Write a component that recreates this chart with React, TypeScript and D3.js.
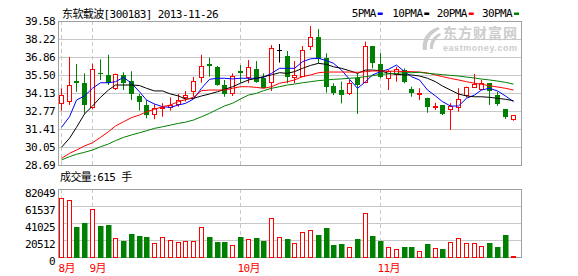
import React from 'react';
import * as d3 from 'd3';

const W = 578;
const H = 276;

const stockTitle = '东软载波[300183] 2013-11-26';
const volumeTitle = '成交量:615 手';
const legendNames = ['5PMA', '10PMA', '20PMA', '30PMA'];
const legendColors = ['#0000ff', '#000000', '#ff0000', '#008000'];
const priceTicks = [39.58, 38.22, 36.86, 35.5, 34.13, 32.77, 31.41, 30.05, 28.69];
const volumeTicks = [82049, 61537, 41025, 20512, 0];
const monthIndex = [0, 4, 23, 41];
const monthLabels = ['8月', '9月', '10月', '11月'];

const opens = [33.35, 33.51, 35.04, 34.89, 33.05, 35.65, 35.47, 34.49, 35.47, 35.02, 33.88, 33.2, 32.52, 33.0, 33.05, 33.3, 33.81, 34.26, 35.32, 36.33, 36.1, 34.74, 34.11, 35.8, 35.32, 35.93, 35.29, 34.94, 37.39, 36.93, 35.37, 35.42, 37.69, 38.39, 36.78, 34.66, 34.36, 34.11, 35.25, 34.94, 37.69, 36.33, 35.25, 35.57, 35.87, 34.46, 34.11, 33.78, 33.12, 33.23, 32.9, 33.05, 33.96, 34.61, 34.41, 34.87, 33.98, 32.9, 32.17];
const highs = [34.49, 36.86, 36.33, 35.62, 36.35, 36.68, 37.03, 35.6, 35.7, 35.78, 34.06, 33.6, 33.28, 33.36, 33.8, 34.06, 34.29, 35.34, 37.03, 36.8, 36.18, 35.12, 35.62, 36.25, 36.63, 36.55, 35.62, 37.76, 37.84, 37.31, 36.55, 37.69, 39.2, 38.97, 37.14, 34.87, 34.99, 35.12, 35.62, 38.02, 37.69, 37.14, 35.87, 36.12, 36.0, 34.61, 34.49, 33.78, 33.4, 33.23, 33.36, 34.49, 34.61, 35.57, 35.12, 34.87, 34.23, 32.9, 32.45];
const lows = [32.79, 33.23, 34.23, 32.55, 32.9, 35.12, 34.74, 34.36, 34.36, 33.6, 32.8, 32.22, 32.15, 32.34, 32.8, 33.1, 33.48, 33.85, 34.91, 35.37, 34.69, 33.85, 33.91, 34.89, 34.87, 34.91, 34.49, 34.29, 36.43, 34.87, 34.87, 35.37, 37.39, 36.38, 34.16, 33.98, 33.35, 33.98, 32.55, 34.87, 36.0, 35.25, 34.36, 34.99, 34.87, 33.85, 33.6, 32.64, 32.85, 32.47, 31.34, 32.72, 33.8, 34.61, 34.36, 33.23, 33.17, 32.17, 32.04];
const closes = [33.96, 34.72, 34.91, 33.25, 35.93, 35.55, 34.87, 35.57, 34.87, 34.06, 33.48, 32.47, 32.98, 33.05, 33.23, 33.6, 34.0, 35.04, 36.18, 36.2, 34.76, 34.08, 35.4, 35.67, 36.08, 34.99, 34.53, 37.51, 37.39, 35.32, 35.5, 37.36, 38.35, 36.71, 34.61, 34.16, 33.98, 34.87, 34.74, 37.69, 36.38, 35.32, 35.82, 35.93, 34.99, 34.16, 34.16, 33.1, 33.15, 32.52, 33.15, 33.66, 34.57, 34.79, 34.91, 34.29, 33.28, 32.34, 32.45];
const volumes = [71190, 68777, 36198, 41387, 57917, 37767, 38973, 22925, 19668, 28114, 25700, 24494, 16892, 23650, 20512, 18461, 19306, 19306, 36198, 24132, 17617, 18461, 14479, 24132, 21719, 22925, 19668, 47057, 24132, 21719, 17255, 30528, 32578, 26907, 35353, 14841, 16048, 12066, 22080, 53091, 25700, 19668, 12066, 9653, 12428, 12428, 7240, 16048, 10859, 10015, 18461, 22925, 17255, 17255, 13635, 17255, 12428, 26907, 615];

const ma5 = [31.54, 32.34, 33.6, 33.91, 34.49, 34.91, 34.91, 34.99, 35.32, 34.87, 34.23, 33.6, 33.3, 33.1, 33.05, 33.23, 33.35, 33.68, 34.49, 35.17, 35.25, 35.25, 35.2, 35.25, 35.25, 35.25, 35.32, 35.62, 36.0, 36.0, 36.0, 36.5, 36.72, 36.76, 36.58, 36.38, 35.87, 35.17, 34.49, 34.99, 35.5, 35.75, 35.93, 36.25, 35.75, 35.37, 35.12, 34.36, 33.91, 33.48, 33.15, 33.15, 33.73, 33.98, 34.36, 34.49, 34.29, 33.91, 33.48];
const ma10 = [30.03, 30.71, 31.54, 32.55, 33.15, 33.81, 34.36, 34.74, 34.74, 34.74, 34.7, 34.49, 34.29, 34.29, 34.06, 33.91, 33.68, 33.73, 33.91, 34.06, 34.23, 34.41, 34.61, 34.87, 35.12, 35.25, 35.37, 35.5, 35.67, 35.62, 35.75, 36.0, 36.22, 36.38, 36.3, 36.12, 36.0, 35.82, 35.62, 35.87, 35.87, 35.82, 35.62, 35.55, 35.5, 35.5, 35.42, 35.25, 34.99, 34.66, 34.36, 34.06, 33.91, 33.85, 33.85, 33.81, 33.73, 33.66, 33.55];
const ma20 = [29.19, 29.57, 29.82, 30.13, 30.37, 30.78, 31.21, 31.64, 31.96, 32.27, 32.47, 32.72, 32.9, 33.1, 33.23, 33.48, 33.63, 33.81, 34.31, 34.36, 34.36, 34.36, 34.49, 34.61, 34.61, 34.56, 34.49, 34.61, 34.87, 34.99, 35.12, 35.37, 35.5, 35.67, 35.72, 35.72, 35.72, 35.72, 35.7, 35.75, 35.8, 35.8, 35.78, 35.78, 35.76, 35.75, 35.72, 35.65, 35.5, 35.37, 35.24, 35.12, 34.99, 34.87, 34.79, 34.69, 34.59, 34.49, 34.36];
const ma30 = [29.07, 29.32, 29.5, 29.65, 29.82, 30.07, 30.28, 30.53, 30.78, 30.96, 31.13, 31.28, 31.46, 31.58, 31.71, 31.84, 31.93, 32.09, 32.34, 32.6, 32.9, 33.15, 33.36, 33.68, 33.98, 34.11, 34.31, 34.49, 34.61, 34.74, 34.81, 34.91, 34.99, 35.07, 35.12, 35.17, 35.2, 35.25, 35.29, 35.37, 35.44, 35.55, 35.58, 35.62, 35.67, 35.67, 35.7, 35.62, 35.57, 35.52, 35.47, 35.42, 35.34, 35.27, 35.19, 35.12, 35.04, 34.94, 34.81];

const RED = '#ff0000';
const GREEN = '#008000';
const GRID = '#c8c8c8';
const BORDER = '#a0a0a0';
const MONO = '"DejaVu Sans Mono", "Noto Sans CJK SC", monospace';

export default function App() {
  const left = 58;
  const right = 522;
  const pTop = 21;
  const pBottom = 165;
  const vTop = 189;
  const vBottom = 257;

  const x = d3.scaleLinear().domain([0, 58]).range([60.8, 512.6]);
  const yP = d3.scaleLinear().domain([28.69, 39.58]).range([pBottom, pTop]);
  const yV = d3.scaleLinear().domain([0, 82049]).range([vBottom, vTop]);

  const cxOf = (i: number) => Math.round(x(i));
  const line = d3
    .line<number>()
    .x((_, i) => cxOf(i) + 0.5)
    .y((v) => yP(v));

  const maSeries = [ma5, ma10, ma20, ma30];

  const textStyle: React.CSSProperties = {
    fontFamily: MONO,
    fontSize: 11,
    letterSpacing: -0.6,
  };

  const legendX = [351.7, 392.3, 436.7, 482];

  return (
    <svg
      width={W}
      height={H}
      viewBox={`0 0 ${W} ${H}`}
      style={{ position: 'absolute', left: 0, top: 0, background: '#fff' }}
    >
      <rect x={0} y={0} width={W} height={H} fill="#fff" />

      {/* watermark */}
      <g fill="#cdcdcd">
        <path d="M438 27 C428 30 421 39 423 50 L427 50 C426 41 430 34 440 29 Z" />
        <path d="M440 33 C433 36 429 42 430 49 L433 49 C433 43 436 38 441 35 Z" />
        <text x={443} y={38} style={{ fontFamily: '"Noto Sans CJK SC"', fontSize: 14, fontWeight: 700 }} textLength={74} lengthAdjust="spacing">
          东方财富网
        </text>
        <text x={443} y={50.5} style={{ fontFamily: '"Liberation Sans", Arial', fontSize: 9, fontWeight: 700 }} textLength={74} lengthAdjust="spacing">
          eastmoney.com
        </text>
      </g>

      {/* price grid */}
      {priceTicks.map((t, k) => {
        const y = Math.round(yP(t)) + 0.5;
        return (
          <g key={'pg' + k}>
            {k > 0 && k < priceTicks.length - 1 && (
              <line x1={left} x2={right} y1={y} y2={y} stroke={GRID} strokeWidth={1} />
            )}
            <text x={55} y={y + 3.5} textAnchor="end" style={textStyle} fill="#000">
              {t.toFixed(2)}
            </text>
          </g>
        );
      })}
      {/* volume grid */}
      {volumeTicks.map((t, k) => {
        const y = Math.round(yV(t)) + 0.5;
        return (
          <g key={'vg' + k}>
            {k > 0 && k < volumeTicks.length - 1 && (
              <line x1={left} x2={right} y1={y} y2={y} stroke={GRID} strokeWidth={1} />
            )}
            <text x={55} y={y + 7} textAnchor="end" style={textStyle} fill="#000">
              {String(t)}
            </text>
          </g>
        );
      })}

      {/* month dashed lines and labels */}
      {monthIndex.map((mi, k) => {
        const xx = cxOf(mi) + 0.5;
        return (
          <g key={'m' + k}>
            <line x1={xx} x2={xx} y1={pTop} y2={pBottom} stroke={GRID} strokeDasharray="4,3" />
            <line x1={xx} x2={xx} y1={vTop} y2={vBottom} stroke={GRID} strokeDasharray="4,3" />
            <text x={xx - 3} y={271.5} style={textStyle} fill={RED}>
              {monthLabels[k]}
            </text>
          </g>
        );
      })}

      {/* borders */}
      <rect x={left + 0.5} y={pTop + 0.5} width={right - left - 1} height={pBottom - pTop} fill="none" stroke={BORDER} />
      <rect x={left + 0.5} y={vTop + 0.5} width={right - left - 1} height={vBottom - vTop} fill="none" stroke={BORDER} />

      {/* candles */}
      {opens.map((o, i) => {
        const c = closes[i];
        const cx = cxOf(i);
        const hy = yP(highs[i]);
        const ly = yP(lows[i]);
        const flat = o === c;
        const up = c > o;
        const color = flat ? '#000' : up ? RED : GREEN;
        const yTop = Math.round(yP(Math.max(o, c)));
        const yBot = Math.round(yP(Math.min(o, c)));
        const h = Math.max(1, yBot - yTop);
        return (
          <g key={'c' + i}>
            <line x1={cx + 0.5} x2={cx + 0.5} y1={hy} y2={ly} stroke={color} strokeWidth={1} />
            {flat ? (
              <line x1={cx - 2} x2={cx + 3} y1={yTop + 0.5} y2={yTop + 0.5} stroke={color} />
            ) : up ? (
              <rect x={cx - 1.5} y={yTop + 0.5} width={4} height={h} fill="#fff" stroke={RED} strokeWidth={1} />
            ) : (
              <rect x={cx - 2} y={yTop} width={5} height={h} fill={GREEN} />
            )}
          </g>
        );
      })}

      {/* moving averages */}
      {maSeries.map((s, k) => (
        <path key={'ma' + k} d={line(s) || ''} fill="none" stroke={legendColors[k]} strokeWidth={1} />
      ))}

      {/* volume bars */}
      {volumes.map((v, i) => {
        const cx = cxOf(i);
        const up = closes[i] >= opens[i];
        const yt = Math.round(yV(v));
        const h = Math.max(0.5, vBottom - yt);
        return up ? (
          <rect key={'v' + i} x={cx - 1.5} y={yt + 0.5} width={4} height={h} fill="#fff" stroke={RED} strokeWidth={1} />
        ) : (
          <rect key={'v' + i} x={cx - 2} y={yt} width={5.5} height={vBottom - yt + 1} fill={GREEN} />
        );
      })}

      {/* titles */}
      <text x={62} y={17.5} style={textStyle} fill="#000">
        {stockTitle}
      </text>
      <text x={60} y={181} style={textStyle} fill="#000">
        {volumeTitle}
      </text>

      {/* legend */}
      {legendNames.map((n, k) => (
        <g key={'lg' + k}>
          <text x={legendX[k]} y={17} style={textStyle} fill="#000">
            {n}
          </text>
          <rect x={legendX[k] + n.length * 6 + 2} y={12.5} width={5} height={2.5} fill={legendColors[k]} />
        </g>
      ))}
    </svg>
  );
}
